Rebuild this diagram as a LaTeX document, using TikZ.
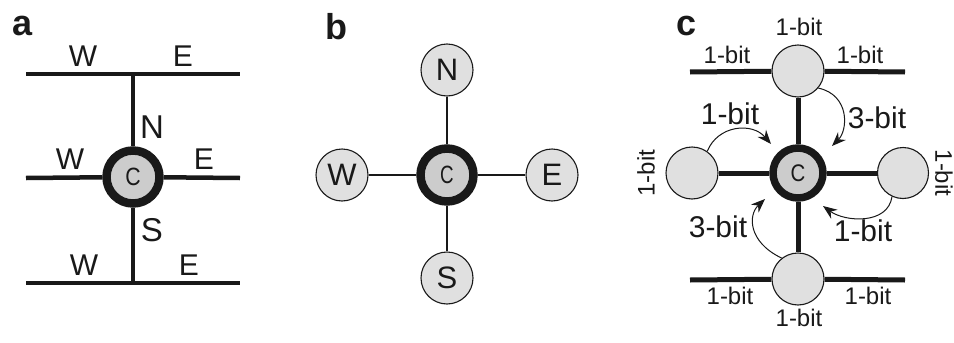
\documentclass[tikz,border=0pt]{standalone}
\usepackage{fontspec}
\setmainfont{Liberation Sans}
\usetikzlibrary{arrows.meta}
\definecolor{nodefill}{gray}{0.88}
\definecolor{cfill}{gray}{0.80}
\definecolor{ink}{gray}{0.1}
\tikzset{
  every node/.style={text=ink},
  thickline/.style={line width=4.5pt, ink},
  medline/.style={line width=5pt, ink},
  thinline/.style={line width=1.3pt, ink},
  center/.style={circle, draw=ink, fill=cfill, line width=8.5pt, minimum size=53pt, inner sep=0pt, font=\fontsize{25}{25}\selectfont},
  center2/.style={circle, draw=ink, fill=cfill, line width=7.5pt, minimum size=50pt, inner sep=0pt, font=\fontsize{24}{24}\selectfont},
  nbr/.style={circle, draw=ink, fill=nodefill, line width=1.1pt, minimum size=52pt, inner sep=0pt, font=\fontsize{31}{31}\selectfont},
  panel/.style={font=\bfseries\fontsize{36}{36}\selectfont, inner sep=0pt},
  lab/.style={font=\fontsize{30}{30}\selectfont, inner sep=0pt},
  biglab/.style={font=\fontsize{33}{33}\selectfont, inner sep=0pt},
  bit/.style={font=\fontsize{24}{24}\selectfont, inner sep=0pt},
  bitbig/.style={font=\fontsize{30}{30}\selectfont, inner sep=0pt},
  arr/.style={line width=1pt, ink, -{Stealth[length=14pt,width=11pt]}},
}
\begin{document}
\begin{tikzpicture}[x=1pt,y=-1pt]
\useasboundingbox (0,0) rectangle (954,343);
% ---------------- panel a
\node[panel] (la) at (23,26) {a};
\coordinate (a1w) at (26,74); \coordinate (a1e) at (240,74); \coordinate (a1m) at (133,74);
\coordinate (a2w) at (26,178); \coordinate (a2e) at (240,178);
\coordinate (a3w) at (26,283); \coordinate (a3e) at (240,283); \coordinate (a3m) at (133,283);
\node[center] (ac) at (133,177) {\scalebox{0.85}[1]{C}};
\draw[thickline] (a1w) -- (a1e);
\draw[thickline] (a3w) -- (a3e);
\draw[thickline] (a1m) -- (ac);
\draw[thickline] (ac) -- (a3m);
\draw[thickline] (a2w) -- (ac);
\draw[thickline] (ac) -- (a2e);
\node[lab] (aw1) at (83,56) {W};
\node[lab] (ae1) at (183,56) {E};
\node[lab] (aw2) at (70,159) {W};
\node[lab] (ae2) at (204,159) {E};
\node[biglab] (an) at (152,127) {N};
\node[biglab] (as) at (152,230) {S};
\node[lab] (aw3) at (84,265) {W};
\node[lab] (ae3) at (189,265) {E};
% ---------------- panel b
\node[panel] (lb) at (336,27) {b};
\node[center] (bc) at (447,175) {\scalebox{0.75}[1]{C}};
\node[nbr] (bn) at (447,70) {N};
\node[nbr] (bs) at (447,278) {S};
\node[nbr] (bw) at (342,175) {W};
\node[nbr] (be) at (552,175) {E};
\draw[thinline] (bn) -- (bc);
\draw[thinline] (bc) -- (bs);
\draw[thinline] (bw) -- (bc);
\draw[thinline] (bc) -- (be);
% ---------------- panel c
\node[panel] (lc) at (687,26) {c};
\node[center2] (cc) at (798,173) {\scalebox{0.85}[1]{C}};
\node[nbr] (cn) at (798,71) {};
\node[nbr] (cs) at (798,279) {};
\node[nbr] (cw) at (692,173) {};
\node[nbr, minimum size=51pt] (ce) at (903,173) {};
\coordinate (c1w) at (690,72); \coordinate (c1e) at (905,72);
\coordinate (c3w) at (690,280); \coordinate (c3e) at (905,280);
\draw[medline] (c1w) -- (cn);
\draw[medline] (cn) -- (c1e);
\draw[medline] (c3w) -- (cs);
\draw[medline] (cs) -- (c3e);
\draw[medline] (cn) -- (cc);
\draw[medline] (cc) -- (cs);
\draw[medline] (cw) -- (cc);
\draw[medline] (cc) -- (ce);
% curved arrows
\coordinate (t1) at (771,144);
\coordinate (t2) at (832,146);
\coordinate (t3) at (823,206);
\coordinate (t4) at (765,199);
\draw[arr] (cw.55) .. controls (718,125) and (752,122) .. (t1);
\draw[arr] (cn.-40) .. controls (850,95) and (848,130) .. (t2);
\draw[arr] (ce.-115) .. controls (888,225) and (845,222) .. (t3);
\draw[arr] (cs.128) .. controls (748,242) and (748,215) .. (t4);
% bit labels
\node[bit] (b1) at (799,27) {1-bit};
\node[bit] (b2) at (727,55) {1-bit};
\node[bit] (b3) at (860,55) {1-bit};
\node[bit] (b4) at (730,296) {1-bit};
\node[bit] (b5) at (868,296) {1-bit};
\node[bit] (b6) at (799,318) {1-bit};
\node[bit, rotate=90] (b7) at (646,173) {1-bit};
\node[bit, rotate=-90] (b8) at (944,173) {1-bit};
\node[bitbig] (b9) at (730,114) {1-bit};
\node[bitbig] (b10) at (877,118) {3-bit};
\node[bitbig] (b11) at (863,231) {1-bit};
\node[bitbig] (b12) at (718,227) {3-bit};
\end{tikzpicture}
\end{document}
